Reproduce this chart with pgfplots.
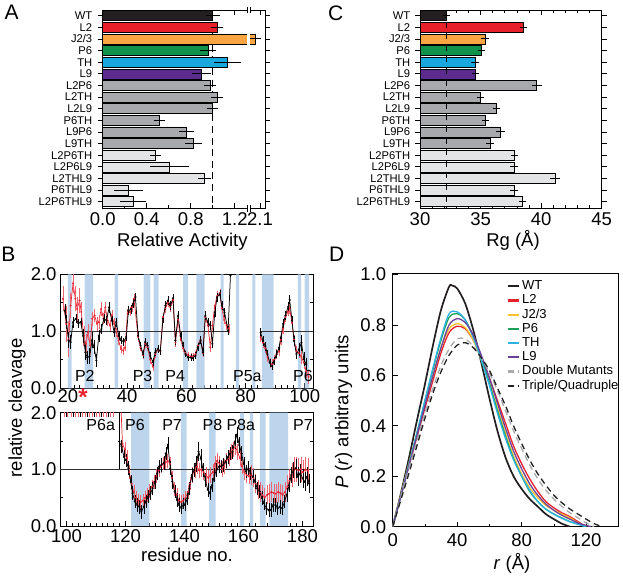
\documentclass[border=0pt]{standalone}
\usepackage{fontspec}
\setmainfont{Liberation Sans}
\usepackage{pgfplots}
\usepackage{pgfplotstable}
\pgfplotsset{compat=1.18}
\newcommand\fs[2]{\fontsize{#1bp}{#2bp}\selectfont}
\definecolor{cWT}{HTML}{231F20}
\definecolor{cL2}{HTML}{E8202A}
\definecolor{cJ}{HTML}{F9A541}
\definecolor{cP6}{HTML}{10924A}
\definecolor{cTH}{HTML}{18A8DE}
\definecolor{cL9}{HTML}{5B2C8E}
\definecolor{cDbl}{HTML}{A8A9AC}
\definecolor{cTri}{HTML}{E3E4E5}
\definecolor{cBand}{HTML}{BDD5EC}
\definecolor{cRed}{HTML}{E8232F}
\definecolor{cRedE}{HTML}{EE6670}
\definecolor{cLine}{HTML}{333333}
\definecolor{dJ}{HTML}{FBC22E}
\definecolor{dP6}{HTML}{1BA25A}
\definecolor{dTH}{HTML}{2AB3E2}
\definecolor{dL9}{HTML}{6A3F98}

% ---------- Panel B data ----------
\pgfplotstableread{
x y e
18.9 1.36 0.1
19.5 1.16 0.1
20.2 0.84 0.12
20.9 0.81 0.1
21.7 1.16 0.08
22.6 1.22 0.06
23.5 1.14 0.06
24.3 1.16 0.06
25.1 0.92 0.1
25.9 0.63 0.12
26.5 0.54 0.1
27.3 0.56 0.12
28.1 0.84 0.12
28.8 0.72 0.1
29.6 0.49 0.1
30.4 0.92 0.08
31.3 1.04 0.06
32.1 1.22 0.06
33.0 1.19 0.06
33.9 1.42 0.08
34.8 1.19 0.06
35.6 0.98 0.06
36.3 1.16 0.06
37.2 0.92 0.06
38.0 0.84 0.05
38.8 0.82 0.05
39.7 0.9 0.05
40.4 1.36 0.06
41.3 1.39 0.06
42.0 1.48 0.06
42.8 1.6 0.05
43.7 0.92 0.06
44.5 0.75 0.05
45.4 0.6 0.05
46.1 0.81 0.05
46.9 0.75 0.05
47.8 0.57 0.05
48.7 0.46 0.05
49.5 0.63 0.05
50.4 0.69 0.05
51.2 0.66 0.05
52.1 1.22 0.06
52.9 1.45 0.06
53.8 1.54 0.06
54.6 1.45 0.06
55.5 1.58 0.06
56.3 0.84 0.06
57.2 1.27 0.06
58.1 0.92 0.05
58.9 0.75 0.05
59.7 0.6 0.04
60.6 0.54 0.04
61.5 0.54 0.04
62.2 0.53 0.04
63.1 0.57 0.04
63.9 0.72 0.05
64.8 0.84 0.05
65.6 0.63 0.05
66.4 1.27 0.06
67.3 1.16 0.06
68.1 1.1 0.06
68.8 0.78 0.06
69.6 1.33 0.06
70.4 1.6 0.06
71.3 1.65 0.06
72.0 1.45 0.06
72.9 1.33 0.06
74.1 1.01 0.06
74.9 1.98 0.0
}\blackA
\pgfplotstableread{
x y e
85.1 0.98 0.06
85.9 0.83 0.06
86.7 0.74 0.06
87.4 0.6 0.05
88.2 0.45 0.05
89.0 0.39 0.05
89.7 0.48 0.05
90.5 0.6 0.05
91.3 0.71 0.05
91.9 0.89 0.06
92.7 1.13 0.06
93.5 1.28 0.06
94.4 1.43 0.06
94.9 1.55 0.06
95.7 1.19 0.06
96.4 0.83 0.06
97.2 0.6 0.06
98.0 0.68 0.1
98.9 0.8 0.12
99.7 0.51 0.1
100.5 0.42 0.1
}\blackB
\pgfplotstableread{
x y e
18.3 1.57 0.2
19.4 1.13 0.3
20.2 0.86 0.3
20.9 1.45 0.2
21.7 1.84 0.15
22.5 1.57 0.2
23.1 1.39 0.2
23.9 1.54 0.2
24.5 1.34 0.15
25.3 0.92 0.15
26.0 0.78 0.15
26.8 0.98 0.12
27.5 0.75 0.15
28.2 1.22 0.1
29.0 1.28 0.1
29.8 1.13 0.1
30.4 1.16 0.1
31.2 1.39 0.1
32.0 1.22 0.08
32.6 1.42 0.08
33.4 1.19 0.08
34.2 1.1 0.08
34.8 1.28 0.08
35.6 1.13 0.08
36.4 0.98 0.06
37.1 0.84 0.06
37.9 0.69 0.05
38.7 0.66 0.05
39.3 0.72 0.05
40.1 1.31 0.06
40.9 1.34 0.06
41.6 1.42 0.06
42.3 1.57 0.06
43.7 0.9 0.06
44.5 0.72 0.05
45.4 0.58 0.05
46.1 0.78 0.05
46.9 0.72 0.05
47.8 0.5 0.05
48.7 0.38 0.05
49.5 0.6 0.05
50.4 0.68 0.05
51.2 0.65 0.05
52.1 1.25 0.06
52.9 1.4 0.06
53.8 1.5 0.06
54.6 1.42 0.06
55.5 1.55 0.06
56.3 0.8 0.06
57.2 1.2 0.06
58.1 0.85 0.05
58.9 0.7 0.05
59.7 0.62 0.04
60.6 0.58 0.04
61.5 0.56 0.04
62.2 0.56 0.04
63.1 0.6 0.04
63.9 0.75 0.05
64.8 0.85 0.05
65.6 0.62 0.05
66.4 1.25 0.06
67.3 1.1 0.06
68.1 0.72 0.06
68.8 1.1 0.06
69.6 1.45 0.06
70.4 1.62 0.06
71.3 1.67 0.06
72.0 1.4 0.06
72.8 1.2 0.06
73.6 1.1 0.06
74.3 1.05 0.06
}\redA
\pgfplotstableread{
x y e
85.1 0.9 0.07
85.9 0.8 0.07
86.7 0.7 0.07
87.4 0.55 0.07
88.2 0.45 0.07
89.0 0.42 0.07
89.7 0.5 0.07
90.5 0.6 0.07
91.3 0.65 0.07
91.9 0.85 0.07
92.7 1.05 0.07
93.5 1.25 0.07
94.4 1.35 0.07
94.9 1.4 0.07
95.7 1.15 0.07
96.4 0.85 0.07
97.2 0.65 0.07
98.0 0.62 0.07
98.9 0.55 0.1
99.7 0.45 0.1
100.5 0.3 0.1
101.3 0.2 0.1
}\redB
\pgfplotstableread{
x y e
117.9 1.49 0.12
118.7 1.4 0.1
119.5 1.22 0.1
120.2 1.16 0.1
121.0 1.02 0.1
121.8 0.78 0.1
122.4 0.58 0.1
123.2 0.43 0.1
124.0 0.37 0.1
124.7 0.34 0.1
125.4 0.25 0.1
126.2 0.34 0.1
126.9 0.43 0.1
127.7 0.52 0.1
128.5 0.58 0.1
129.2 0.66 0.1
130.0 0.78 0.1
130.8 0.93 0.1
131.4 1.05 0.1
132.2 1.08 0.1
133.0 1.11 0.1
133.7 1.28 0.1
134.4 1.43 0.12
135.2 1.02 0.1
135.9 0.78 0.1
136.7 0.61 0.1
137.5 0.46 0.1
138.2 0.37 0.1
139.0 0.31 0.08
139.7 0.4 0.08
140.2 0.37 0.08
141.0 0.49 0.1
141.7 0.66 0.1
142.5 0.9 0.1
143.3 0.99 0.1
144.0 1.1 0.12
144.8 1.31 0.15
145.6 1.19 0.15
146.3 0.99 0.1
147.1 0.81 0.1
147.9 0.64 0.1
148.6 0.58 0.1
149.4 0.72 0.1
150.2 0.9 0.1
150.9 0.99 0.1
151.7 1.05 0.1
152.5 1.05 0.1
153.2 1.08 0.1
154.0 1.14 0.1
154.8 1.22 0.1
155.5 1.28 0.1
156.3 1.31 0.1
157.1 1.49 0.12
157.8 1.61 0.12
158.6 1.43 0.12
159.4 1.28 0.12
160.1 1.1 0.1
160.9 0.96 0.1
161.7 1.02 0.1
162.4 0.93 0.1
163.2 0.87 0.1
164.0 0.78 0.1
164.7 0.66 0.1
165.5 0.61 0.1
166.3 0.49 0.1
167.0 0.4 0.1
167.8 0.31 0.1
168.6 0.28 0.1
169.3 0.28 0.1
170.1 0.37 0.1
170.9 0.37 0.1
171.6 0.31 0.1
172.4 0.34 0.1
173.2 0.31 0.1
173.9 0.43 0.1
174.7 0.55 0.1
175.5 0.72 0.1
176.2 0.9 0.12
177.0 0.99 0.12
177.8 1.02 0.15
178.5 0.87 0.15
179.3 0.93 0.15
180.1 0.84 0.15
180.8 0.78 0.15
181.6 0.87 0.15
182.3 0.75 0.15
}\blackC
\pgfplotstableread{
x y e
118.3 2.3 0.0
119.0 1.45 0.12
119.8 1.35 0.12
120.5 1.2 0.12
121.3 0.95 0.1
122.1 0.75 0.1
122.8 0.6 0.1
123.6 0.5 0.1
124.4 0.45 0.1
125.1 0.42 0.1
125.9 0.45 0.1
126.7 0.5 0.1
127.4 0.55 0.1
128.2 0.62 0.1
129.0 0.7 0.1
129.7 0.78 0.1
130.5 0.88 0.1
131.3 0.98 0.1
132.0 1.05 0.1
132.8 1.1 0.1
133.6 1.12 0.1
134.3 1.15 0.1
135.1 1.1 0.1
135.8 0.85 0.1
136.6 0.65 0.1
137.4 0.55 0.1
138.1 0.45 0.1
138.9 0.42 0.1
139.6 0.45 0.1
140.4 0.5 0.1
141.2 0.6 0.1
141.9 0.75 0.1
142.7 0.9 0.12
143.5 0.98 0.12
144.2 1.05 0.12
145.0 0.98 0.12
145.8 1.0 0.12
146.5 0.95 0.12
147.3 0.9 0.12
148.1 0.85 0.12
148.8 0.9 0.12
149.6 0.95 0.12
150.4 1.1 0.12
151.1 1.15 0.12
151.9 1.1 0.12
152.7 1.0 0.12
153.4 1.05 0.12
154.2 1.15 0.12
155.0 1.2 0.12
155.7 1.3 0.12
156.5 1.35 0.12
157.3 1.4 0.12
158.0 1.3 0.12
158.8 1.2 0.12
159.5 1.05 0.12
160.3 0.95 0.12
161.1 0.9 0.12
161.8 0.88 0.12
162.6 0.9 0.15
163.4 0.85 0.15
164.1 0.75 0.15
164.9 0.65 0.15
165.7 0.6 0.15
166.4 0.55 0.15
167.2 0.5 0.15
168.0 0.55 0.15
168.7 0.57 0.15
169.5 0.6 0.15
170.3 0.58 0.15
171.0 0.57 0.15
171.8 0.6 0.15
172.6 0.58 0.15
173.3 0.55 0.15
174.1 0.6 0.15
174.9 0.7 0.18
175.6 0.8 0.18
176.4 0.9 0.2
177.2 1.0 0.2
177.9 1.0 0.2
178.7 0.98 0.2
179.5 1.0 0.2
180.2 0.95 0.2
181.0 1.0 0.2
181.8 0.98 0.2
}\redC
\pgfplotstableread{
x y e
99.2 2.1 0.15
100.4 2.1 0.15
101.6 2.1 0.15
102.8 2.1 0.15
104.0 2.1 0.15
105.2 2.1 0.15
106.4 2.1 0.15
107.6 2.1 0.15
108.8 2.1 0.15
110.0 2.1 0.15
111.2 2.1 0.15
112.4 2.1 0.15
113.6 2.1 0.15
114.8 2.1 0.15
116.0 2.1 0.15
}\redOff
\pgfplotstableread{
x y e
99.8 2.1 0.15
102.2 2.1 0.15
104.6 2.1 0.15
107.0 2.1 0.15
109.4 2.1 0.15
111.8 2.1 0.15
114.2 2.1 0.15
}\blackOff

\pgfplotsset{
  myax/.style={scale only axis, anchor=south west, tick align=inside,
    axis line style={line width=0.8pt},
    every tick/.style={black, line width=0.7pt},
    major tick length=5bp, minor tick length=3bp,
    tick label style={font=\fs{18.5}{20}},
    /pgf/number format/assume math mode=true},
  barerr/.style={error bars/.cd, x dir=both, x explicit,
    error bar style={line width=0.9pt, black},
    error mark options={line width=0.9pt, black, mark size=#1}},
  barerr/.default=3bp,
  cleavK/.style={black, line width=0.75pt, mark=*, mark size=0.65pt,
    error bars/.cd, y dir=both, y explicit,
    error bar style={line width=0.35pt, black},
    error mark options={line width=0.35pt, black, mark size=1.1bp}},
  cleavR/.style={cRed, line width=0.7pt, mark=*, mark size=0.6pt,
    error bars/.cd, y dir=both, y explicit,
    error bar style={line width=0.35pt, cRedE},
    error mark options={line width=0.35pt, cRedE, mark size=1.1bp}},
}

\begin{document}
\begin{tikzpicture}
\useasboundingbox (0,0) rectangle (623bp,579bp);

% ================= Panel A =================
\begin{axis}[myax, at={(102.7bp,370.7bp)}, width=162.3bp, height=198.3bp,
  xmin=0, xmax=1.475, ymin=0.51, ymax=17.57, y dir=reverse,
  xbar, bar width=10bp, bar shift=0pt, clip=false,
  ytick={1,...,17},
  yticklabels={WT,L2,J2/3,P6,TH,L9,L2P6,L2TH,L2L9,P6TH,L9P6,L9TH,L2P6TH,L2P6L9,L2THL9,P6THL9,L2P6THL9},
  yticklabel style={font=\fs{11.2}{12}, xshift=-2bp},
  xtick={0,0.4,0.8,1.2,1.43}, xticklabels={0.0,0.4,0.8,1.2,2.1},
  minor xtick={0.2,0.6,1.0},
  xticklabel style={yshift=-1bp},
]
\addplot[sharp plot, black, line width=1.4pt, dash pattern=on 7bp off 4.6bp] coordinates {(1,0.51)(1,17.57)};
\addplot[fill=cWT, draw=black, line width=0.5pt, barerr] coordinates {(1.0,1) +- (0.035,0)};
\addplot[fill=cL2, draw=black, line width=0.5pt, barerr] coordinates {(1.04,2) +- (0.03,0)};
\addplot[fill=cJ, draw=black, line width=0.5pt, barerr] coordinates {(1.385,3) +- (0.025,0)};
\addplot[fill=cP6, draw=black, line width=0.5pt, barerr] coordinates {(0.96,4) +- (0.045,0)};
\addplot[fill=cTH, draw=black, line width=0.5pt, barerr] coordinates {(1.136,5) +- (0.097,0)};
\addplot[fill=cL9, draw=black, line width=0.5pt, barerr] coordinates {(0.90,6) +- (0.06,0)};
\addplot[fill=cDbl, draw=black, line width=0.5pt, barerr] coordinates {
  (0.975,7) +- (0.03,0) (1.04,8) +- (0.03,0) (0.997,9) +- (0.02,0)
  (0.515,10) +- (0.02,0) (0.763,11) +- (0.04,0) (0.824,12) +- (0.05,0)};
\addplot[fill=cTri, draw=black, line width=0.5pt, barerr] coordinates {
  (0.48,13) +- (0.025,0) (0.606,14) +- (0.15,0) (0.924,15) +- (0.03,0)
  (0.233,16) +- (0.105,0) (0.279,17) +- (0.09,0)};
% axis break
\fill[white] (axis cs:1.314,2.45) rectangle (axis cs:1.343,3.55);
\fill[white] (axis cs:1.314,0.3) rectangle (axis cs:1.343,0.72);
\fill[white] (axis cs:1.314,17.36) rectangle (axis cs:1.343,17.78);
\draw[line width=0.7pt] (axis cs:1.314,0.25) -- (axis cs:1.314,0.8);
\draw[line width=0.7pt] (axis cs:1.343,0.25) -- (axis cs:1.343,0.8);
\draw[line width=0.7pt] (axis cs:1.314,17.28) -- (axis cs:1.314,17.85);
\draw[line width=0.7pt] (axis cs:1.343,17.28) -- (axis cs:1.343,17.85);
\end{axis}

% ================= Panel C =================
\begin{axis}[myax, at={(420bp,370.7bp)}, width=181.7bp, height=198.3bp,
  xmin=30, xmax=45, ymin=0.51, ymax=17.57, y dir=reverse,
  xbar, bar width=10bp, bar shift=0pt,
  ytick={1,...,17},
  yticklabels={WT,L2,J2/3,P6,TH,L9,L2P6,L2TH,L2L9,P6TH,L9P6,L9TH,L2P6TH,L2P6L9,L2THL9,P6THL9,L2P6THL9},
  yticklabel style={font=\fs{11.2}{12}, xshift=-1.3bp},
  xtick={30,35,40,45}, minor x tick num=4,
  xticklabel style={yshift=-1bp},
]
\addplot[fill=cWT, draw=black, line width=0.5pt, barerr=2.5bp] coordinates {(32.2,1) +- (0.06,0)};
\addplot[fill=cL2, draw=black, line width=0.5pt, barerr=2.5bp] coordinates {(38.53,2) +- (0.08,0)};
\addplot[fill=cJ, draw=black, line width=0.5pt, barerr=2.5bp] coordinates {(35.37,3) +- (0.12,0)};
\addplot[fill=cP6, draw=black, line width=0.5pt, barerr=2.5bp] coordinates {(35.09,4) +- (0.08,0)};
\addplot[fill=cTH, draw=black, line width=0.5pt, barerr=2.5bp] coordinates {(34.54,5) +- (0.12,0)};
\addplot[fill=cL9, draw=black, line width=0.5pt, barerr=2.5bp] coordinates {(34.60,6) +- (0.08,0)};
\addplot[fill=cDbl, draw=black, line width=0.5pt, barerr=2.5bp] coordinates {
  (39.63,7) +- (0.2,0) (35.0,8) +- (0.08,0) (36.33,9) +- (0.1,0)
  (35.37,10) +- (0.08,0) (36.66,11) +- (0.15,0) (35.78,12) +- (0.1,0)};
\addplot[fill=cTri, draw=black, line width=0.5pt, barerr=2.5bp] coordinates {
  (37.79,13) +- (0.08,0) (37.76,14) +- (0.15,0) (41.15,15) +- (0.2,0)
  (37.76,16) +- (0.15,0) (38.48,17) +- (0.1,0)};
\addplot[sharp plot, black, line width=1.3pt, dash pattern=on 6bp off 5.6bp] coordinates {(32.2,0.51)(32.2,17.57)};
\end{axis}

% ================= Panel B (top) =================
\begin{axis}[myax, at={(60bp,190.7bp)}, width=253.3bp, height=114bp,
  xmin=17.3, xmax=102.9, ymin=0, ymax=2,
  ytick={0,1,2}, yticklabels={0.0,1.0,2.0}, minor ytick={0.5,1.5},
  xtick={20,40,60,80,100}, minor x tick num=9, xtick pos=bottom,
  xticklabel style={yshift=2.5bp},
]
\addplot[const plot, fill=cBand, draw=none] coordinates {
  (17.3,0) (20.0,2) (21.2,0) (25.6,2) (28.5,0) (35.8,2) (36.9,0) (45.6,2) (47.8,0)
  (48.9,2) (50.6,0) (58.9,2) (60.6,0) (63.4,2) (66.2,0) (71.6,2) (72.6,0) (76.8,2)
  (77.8,0) (82.3,2) (83.3,0) (85.5,2) (89.5,0) (97.7,2) (98.8,0) (100.0,2) (101.5,0) (102.9,0)} \closedcycle;
\addplot[cLine, line width=1.2pt] coordinates {(17.3,1)(74.5,1)};
\addplot[cLine, line width=1.2pt] coordinates {(85.0,1)(102.9,1)};
\addplot[cleavR] table[x=x, y=y, y error=e] {\redA};
\addplot[cleavR] table[x=x, y=y, y error=e] {\redB};
\addplot[cleavK] table[x=x, y=y, y error=e] {\blackA};
\addplot[cleavK] table[x=x, y=y, y error=e] {\blackB};
\node[font=\fs{16}{17}] at (axis cs:25.7,0.22) {P2};
\node[font=\fs{16}{17}] at (axis cs:45.2,0.22) {P3};
\node[font=\fs{16}{17}] at (axis cs:56.2,0.22) {P4};
\node[font=\fs{16}{17}] at (axis cs:80.6,0.22) {P5a};
\node[font=\fs{16}{17}] at (axis cs:99.4,0.22) {P6};
\end{axis}

% ================= Panel B (bottom) =================
\begin{axis}[myax, at={(60bp,53bp)}, width=253.3bp, height=113.3bp,
  xmin=97.8, xmax=183.7, ymin=0, ymax=2,
  ytick={0,1,2}, yticklabels={0.0,1.0,2.0}, minor ytick={0.5,1.5},
  xtick={100,120,140,160,180}, minor x tick num=9, xtick pos=bottom,
  xticklabel style={yshift=0bp},
]
\addplot[const plot, fill=cBand, draw=none] coordinates {
  (97.8,0) (121.9,2) (128.1,0) (138.8,2) (140.7,0) (148.4,2) (150.6,0) (158.8,2)
  (160.2,0) (162.2,2) (163.3,0) (165.6,2) (167.5,0) (168.8,2) (175.2,0) (183.7,0)} \closedcycle;
\addplot[cLine, line width=1.2pt] coordinates {(97.8,1)(183.7,1)};
\addplot[draw=none, mark=none, error bars/.cd, y dir=both, y explicit,
  error bar style={line width=0.35pt, cRedE}, error mark options={line width=0.35pt, cRedE, mark size=1.1bp}]
  table[x=x, y=y, y error=e] {\redOff};
\addplot[draw=none, mark=none, error bars/.cd, y dir=both, y explicit,
  error bar style={line width=0.35pt, black}, error mark options={line width=0.35pt, black, mark size=1.1bp}]
  table[x=x, y=y, y error=e] {\blackOff};
\addplot[black, line width=0.6pt] coordinates {(117.8,1.0)(117.8,2.0)};
\addplot[cleavR] table[x=x, y=y, y error=e] {\redC};
\addplot[cleavK] table[x=x, y=y, y error=e] {\blackC};
\node[font=\fs{16}{17}, fill=white, inner sep=1bp] at (axis cs:111.6,1.78) {P6a};
\node[font=\fs{16}{17}] at (axis cs:123.2,1.78) {P6};
\node[font=\fs{16}{17}] at (axis cs:135.8,1.78) {P7};
\node[font=\fs{16}{17}] at (axis cs:149.5,1.78) {P8};
\node[font=\fs{16}{17}] at (axis cs:159.1,1.78) {P8a};
\node[font=\fs{16}{17}] at (axis cs:180.2,1.78) {P7};
\end{axis}

% ================= Panel D =================
\begin{axis}[myax, at={(392.7bp,52.3bp)}, width=225.6bp, height=253.4bp,
  xmin=0, xmax=140, ymin=0, ymax=1.005,
  xtick={0,40,80,120}, minor xtick={20,60,100},
  ytick={0,0.2,0.4,0.6,0.8,1}, yticklabels={0.0,0.2,0.4,0.6,0.8,1.0},
  xtick pos=bottom, ytick pos=left,
  yticklabel style={xshift=-3bp},
  xticklabel style={yshift=-3.5bp},
  legend style={draw=none, fill=none, at={(0.49,0.985)}, anchor=north west,
    font=\fs{13}{14}, row sep=0bp, column sep=1bp,
    nodes={text height=9.5bp, text depth=2.7bp, inner sep=1bp}},
  legend cell align=left,
  legend image code/.code={\draw[#1, line width=2.2pt] (0bp,0bp) -- (11.5bp,0bp);},
]
\addplot[cWT, line width=1.7pt, smooth] coordinates {(0,0)(5,0.13)(10,0.27)(15,0.42)(20,0.565)(25,0.72)(30,0.86)(35,0.952)(37,0.956)(40,0.945)(45,0.885)(50,0.78)(55,0.65)(60,0.51)(65,0.38)(70,0.275)(75,0.2)(80,0.15)(85,0.11)(90,0.08)(95,0.05)(100,0.03)(105,0.012)(110,0)};
\addlegendentry{WT}
\addplot[cL2, line width=1.3pt, smooth] coordinates {(0,0)(5,0.12)(10,0.24)(15,0.355)(20,0.47)(25,0.58)(30,0.69)(35,0.77)(40,0.795)(45,0.785)(50,0.74)(55,0.67)(60,0.59)(65,0.5)(70,0.41)(75,0.32)(80,0.25)(85,0.19)(90,0.14)(95,0.1)(100,0.075)(105,0.055)(110,0.04)(115,0.02)(120,0)};
\addlegendentry{L2}
\addplot[dJ, line width=1.3pt, smooth] coordinates {(0,0)(5,0.125)(10,0.25)(15,0.37)(20,0.49)(25,0.6)(30,0.71)(35,0.785)(40,0.805)(45,0.79)(50,0.74)(55,0.66)(60,0.57)(65,0.47)(70,0.37)(75,0.28)(80,0.21)(85,0.155)(90,0.115)(95,0.085)(100,0.065)(105,0.05)(110,0.035)(115,0.015)(120,0)};
\addlegendentry{J2/3}
\addplot[dP6, line width=1.3pt, smooth] coordinates {(0,0)(5,0.12)(10,0.245)(15,0.37)(20,0.5)(25,0.625)(30,0.74)(35,0.83)(40,0.845)(45,0.82)(50,0.755)(55,0.67)(60,0.57)(65,0.46)(70,0.36)(75,0.27)(80,0.2)(85,0.14)(90,0.1)(95,0.07)(100,0.05)(105,0.035)(110,0.02)(115,0.01)(120,0)};
\addlegendentry{P6}
\addplot[dTH, line width=1.3pt, smooth] coordinates {(0,0)(5,0.12)(10,0.245)(15,0.37)(20,0.5)(25,0.63)(30,0.75)(35,0.845)(40,0.852)(45,0.82)(50,0.75)(55,0.66)(60,0.56)(65,0.45)(70,0.35)(75,0.265)(80,0.2)(85,0.145)(90,0.1)(95,0.07)(100,0.05)(105,0.033)(110,0.02)(115,0.01)(120,0)};
\addlegendentry{TH}
\addplot[dL9, line width=1.3pt, smooth] coordinates {(0,0)(5,0.12)(10,0.24)(15,0.36)(20,0.48)(25,0.6)(30,0.71)(35,0.8)(40,0.825)(45,0.81)(50,0.76)(55,0.68)(60,0.59)(65,0.49)(70,0.39)(75,0.3)(80,0.23)(85,0.17)(90,0.125)(95,0.09)(100,0.065)(105,0.045)(110,0.03)(115,0.015)(120,0.005)(123,0)};
\addlegendentry{L9}
\addplot[cDbl, line width=1.3pt, smooth, dash pattern=on 6bp off 4bp] coordinates {(0,0)(5,0.115)(10,0.23)(15,0.34)(20,0.45)(25,0.55)(30,0.64)(35,0.705)(40,0.745)(45,0.745)(50,0.715)(55,0.67)(60,0.61)(65,0.54)(70,0.46)(75,0.38)(80,0.31)(85,0.245)(90,0.19)(95,0.145)(100,0.11)(105,0.08)(110,0.055)(115,0.035)(120,0.015)(125,0)};
\addlegendentry{Double Mutants}
\addplot[cWT, line width=1.3pt, smooth, dash pattern=on 6bp off 4bp] coordinates {(0,0)(5,0.105)(10,0.21)(15,0.32)(20,0.43)(25,0.53)(30,0.615)(35,0.68)(40,0.72)(45,0.73)(50,0.71)(55,0.67)(60,0.62)(65,0.55)(70,0.48)(75,0.4)(80,0.33)(85,0.265)(90,0.21)(95,0.165)(100,0.125)(105,0.095)(110,0.07)(115,0.05)(120,0.03)(125,0.012)(130,0)};
\addlegendentry{Triple/Quadruple}
\end{axis}

% ================= Labels =================
\node[font=\fs{21}{22}] at (11.7bp,566.5bp) {A};
\node[font=\fs{21}{22}] at (8.3bp,325bp) {B};
\node[font=\fs{21}{22}] at (335.8bp,565.7bp) {C};
\node[font=\fs{21}{22}] at (336.7bp,325bp) {D};
\node[font=\fs{18.5}{20}] at (182.3bp,337.5bp) {Relative Activity};
\node[font=\fs{18.5}{20}] at (513bp,339bp) {Rg (Å)};
\node[font=\fs{18.5}{20}] at (187bp,24bp) {residue no.};
\node[font=\fs{18.5}{20}] at (512bp,15.5bp) {\textit{r} (Å)};
\node[font=\fs{18.5}{20}, rotate=90] at (17bp,171bp) {relative cleavage};
\node[font=\fs{18.5}{20}, rotate=90] at (343.5bp,167bp) {\textit{P} (\textit{r}) arbitrary units};
\node[font=\bfseries\fs{24}{24}, text=cRed] at (83bp,182bp) {*};
\end{tikzpicture}
\end{document}
